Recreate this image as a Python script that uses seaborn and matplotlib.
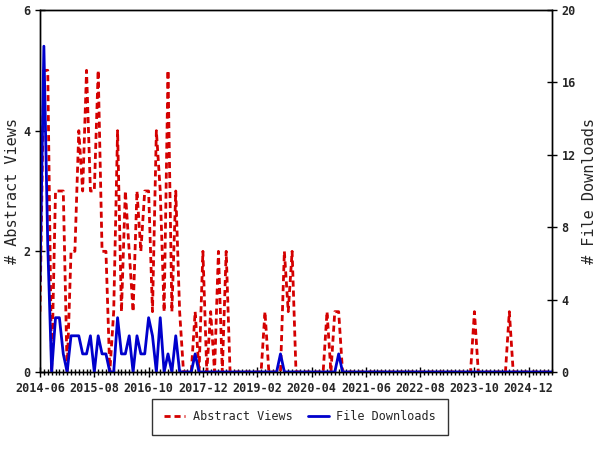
import numpy as np
import matplotlib
matplotlib.use('Agg')
import matplotlib.pyplot as plt
import seaborn as sns

# monthly values, starting 2014-06
views = [1, 5, 5, 0, 3, 3, 3, 0, 2, 2,
         4, 3, 5, 3, 3, 5, 2, 2, 0, 1,
         4, 1, 3, 2, 1, 3, 2, 3, 3, 1,
         4, 3, 1, 5, 1, 3, 1, 0, 0, 0,
         1, 0, 2, 0, 1, 0, 2, 0, 2, 0,
         0, 0, 0, 0, 0, 0, 0, 0, 1, 0,
         0, 0, 0, 2, 1, 2, 0, 0, 0, 0,
         0, 0, 0, 0, 1, 0, 1, 1, 0, 0] + [0] * 32 + [1] + [0] * 8 + [1] + [0] * 11

downloads = [5, 18, 7, 0, 3, 3, 1, 0, 2, 2,
             2, 1, 1, 2, 0, 2, 1, 1, 0, 0,
             3, 1, 1, 2, 0, 2, 1, 1, 3, 2,
             0, 3, 0, 1, 0, 2, 0, 0, 0, 0,
             1] + [0] * 21 + [1] + [0] * 14 + [1] + [0] * 55

tick_labels = ['2014-06', '2015-08', '2016-10', '2017-12', '2019-02',
               '2020-04', '2021-06', '2022-08', '2023-10', '2024-12']

months = np.arange(len(views))

sns.set_style('ticks', {'axes.edgecolor': 'black'})
plt.rcParams['font.family'] = ['DejaVu Sans Mono']

fig, ax = plt.subplots(figsize=(6, 4.5), dpi=100)
fig.subplots_adjust(left=40/600, right=552/600, bottom=1-372/450, top=1-10/450)
ax2 = ax.twinx()

sns.lineplot(x=months, y=views, ax=ax, color='#d40000', linewidth=2,
             label='Abstract Views')
ax.lines[0].set_linestyle((0, (2.2, 1.4)))
sns.lineplot(x=months, y=downloads, ax=ax2, color='#0000cc', linewidth=2,
             label='File Downloads')

h1, l1 = ax.get_legend_handles_labels()
h2, l2 = ax2.get_legend_handles_labels()
for a in (ax, ax2):
    if a.get_legend() is not None:
        a.get_legend().remove()

ax.set_xlim(0, len(views) - 1)
ax.set_ylim(0, 6)
ax2.set_ylim(0, 20)
ax.set_yticks([0, 2, 4, 6])
ax2.set_yticks([0, 4, 8, 12, 16, 20])
ax.set_xticks(np.arange(0, len(views), 14))
ax.set_xticklabels(tick_labels)
ax.set_xticks(months, minor=True)

for a in (ax, ax2):
    a.tick_params(axis='both', which='major', direction='inout', length=7,
                  width=1, labelsize=8.5, color='black')
    a.tick_params(axis='both', which='minor', direction='inout', length=4,
                  width=1, color='black')
    for lab in a.get_xticklabels() + a.get_yticklabels():
        lab.set_fontweight('bold')
    for s in a.spines.values():
        s.set_color('black')
        s.set_linewidth(1)

ax.set_xlabel('')
ax.set_ylabel('# Abstract Views', fontsize=11, labelpad=2)
ax2.set_ylabel('# File Downloads', fontsize=11, labelpad=4)

leg = fig.legend(h1 + h2, l1 + l2, loc='center', bbox_to_anchor=(0.5, 1 - 417/450),
                 ncol=2, fontsize=8.5, frameon=True, fancybox=False,
                 edgecolor='black', handlelength=1.8, handletextpad=0.6,
                 columnspacing=1.3, borderpad=1.0)
leg.get_frame().set_linewidth(1)

fig.savefig('out.png', dpi=100)
